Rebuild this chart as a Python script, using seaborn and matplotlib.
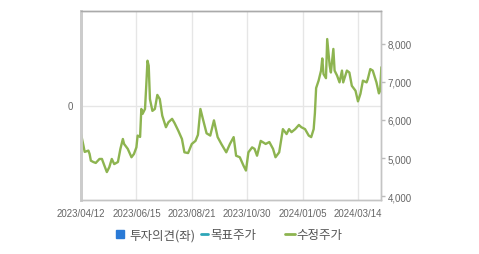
import matplotlib
matplotlib.use("Agg")
import matplotlib.pyplot as plt
from matplotlib.lines import Line2D
import seaborn as sns
import pandas as pd

# ---- data (trading-day index, adjusted close) ----
days = [0, 2, 3, 6, 7, 8, 10, 12, 15, 17, 19, 21, 23, 25, 27, 30, 32, 34, 35, 38,
        41, 43, 45, 46, 48, 49, 50, 52, 53, 54, 55, 56, 58, 60, 62, 64, 66, 69, 71, 74,
        76, 79, 82, 84, 87, 90, 93, 95, 97, 99, 102, 105, 108, 111, 114, 118, 121, 124, 126, 129,
        132, 134, 136, 139, 141, 143, 146, 150, 153, 156, 158, 161, 164, 167, 169, 171, 174, 177, 179, 182,
        185, 187, 189, 190, 191, 193, 195, 196, 197, 199, 200, 202, 203, 205, 206, 208, 210, 212, 213, 216,
        218, 220, 223, 225, 227, 229, 232, 233, 235, 237, 240, 242, 243, 244]
prices = [5630, 5325, 5160, 5195, 5105, 4930, 4895, 4870, 4975, 4975, 4800, 4630, 4760, 4975, 4840, 4895, 5240, 5500, 5370, 5240,
          5020, 5105, 5280, 5590, 5555, 6290, 6160, 6290, 6900, 7560, 7430, 6550, 6240, 6290, 6660, 6550, 6115, 5810, 5940, 6030,
          5920, 5720, 5500, 5150, 5130, 5370, 5450, 5610, 6290, 6030, 5650, 5590, 5990, 5550, 5370, 5150, 5370, 5550, 5060, 5020,
          4800, 4670, 5150, 5280, 5240, 5060, 5450, 5370, 5420, 5240, 5020, 5150, 5760, 5630, 5760, 5680, 5760, 5870, 5810, 5760,
          5590, 5550, 5760, 6180, 6840, 7035, 7300, 7620, 7210, 7100, 8130, 7430, 7250, 7870, 7300, 7170, 6990, 7300, 6990, 7300,
          7250, 6900, 6770, 6490, 6690, 7035, 6990, 7080, 7340, 7300, 6990, 6700, 6770, 7390]
tick_pos = [0, 45, 90, 135, 180, 225]
tick_labels = ["2023/04/12", "2023/06/15", "2023/08/21", "2023/10/30", "2024/01/05", "2024/03/14"]
price_ticks = [4000, 5000, 6000, 7000, 8000]
legend_labels = ["투자의견(좌)", "목표주가", "수정주가"]

sns.set_style("white")
plt.rcParams["font.family"] = ["Liberation Sans", "Noto Sans CJK KR", "DejaVu Sans"]

W, H = 479, 255
fig = plt.figure(figsize=(W / 100, H / 100), dpi=100)
ax = fig.add_axes([81 / W, 1 - 201 / H, 300 / W, 189 / H])
ax2 = ax.twinx()

df = pd.DataFrame({"day": days, "price": prices})
sns.lineplot(data=df, x="day", y="price", ax=ax2, color="#8db450", linewidth=1.7, sort=True)

ax.set_xlim(0, 243.7)
ax.set_ylim(-1, 1)
ax.set_yticks([0])
ax.set_yticklabels(["0"])
ax.set_xticks(tick_pos)
ax.set_xticklabels(tick_labels)
ax.grid(True, color="#e6e6e6", linewidth=1)
ax.tick_params(axis="x", length=0, pad=6, labelsize=7, colors="#666666")
ax.tick_params(axis="y", length=0, pad=6, labelsize=7, colors="#666666")

ax2.set_ylim(3895, 8868)
ax2.set_yticks(price_ticks)
ax2.set_yticklabels([f"{v:,}" for v in price_ticks])
ax2.set_ylabel("")
ax2.set_xlabel("")
ax.set_xlabel("")
ax2.tick_params(axis="y", length=3, width=1, color="#bbbbbb", pad=2, labelsize=7, labelcolor="#666666")
ax2.grid(False)

for a in (ax, ax2):
    a.spines["left"].set_color("#cccccc")
    a.spines["left"].set_linewidth(2)
    a.spines["right"].set_color("#c4c4c4")
    a.spines["right"].set_linewidth(1)
    a.spines["top"].set_color("#aaaaaa")
    a.spines["top"].set_linewidth(1)
    a.spines["bottom"].set_color("#c4c4c4")
    a.spines["bottom"].set_linewidth(1)

# legend entries
handles = [
    Line2D([], [], marker="s", linestyle="none", markersize=5.5, color="#2a7ad6"),
    Line2D([], [], color="#2ea6b8", linewidth=2),
    Line2D([], [], color="#8db450", linewidth=2),
]
lx = [116, 201, 285]
hl = [0.7, 0.55, 0.8]
hp = [0.4, 0.2, 0.1]
for h, lab, x, l, p in zip(handles, legend_labels, lx, hl, hp):
    fig.legend([h], [lab], loc="center left", bbox_to_anchor=(x / W, 1 - 236 / H),
               frameon=False, handlelength=l, handletextpad=p,
               borderpad=0, borderaxespad=0, labelcolor="#555555",
               prop={"family": ["Noto Sans CJK KR", "DejaVu Sans"], "size": 9})

fig.savefig("out.png", dpi=100)
